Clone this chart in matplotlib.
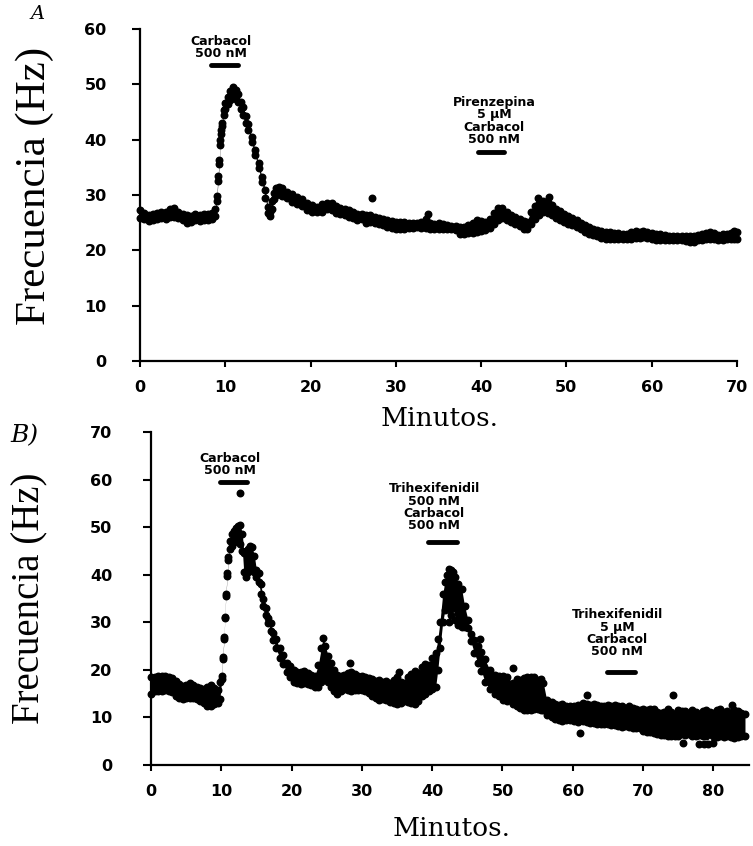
#-------------------------------------------------------------------------------
# Frecuencia de disparo frente al tiempo, dos registros (A y B)
#-------------------------------------------------------------------------------
import numpy as np
import matplotlib.pyplot as plt
#-------------------------------------------------------------------------------
# Panel A : tiempo (min), borde inferior y superior de la nube de puntos (Hz)
t_a = [0.0, 0.5, 1.0, 1.5, 2.0, 2.5, 3.0, 3.5, 4.0, 4.5, 5.0, 5.5, 6.0, 6.5,
       7.0, 7.5, 8.0, 8.5, 8.8, 9.0, 9.15, 9.3, 9.4, 9.5, 9.6, 9.8, 10.0, 10.3,
       10.6, 10.9, 11.2, 11.5, 11.8, 12.1, 12.4, 12.7, 13.1, 13.5, 13.9, 14.3,
       14.7, 15.0, 15.2, 15.5, 15.7, 16.0, 16.3, 16.7, 17.2, 17.8, 18.4, 19.0,
       19.6, 20.2, 20.7, 21.3, 21.9, 22.5, 23.0, 23.5, 24.0, 24.5, 25.0, 25.5,
       26.0, 26.5, 27.0, 27.5, 28.0, 28.5, 29.0, 29.5, 30.0, 30.5, 31.0, 31.5,
       32.0, 32.5, 33.0, 33.5, 34.0, 34.5, 35.0, 35.5, 36.0, 36.5, 37.0, 37.5,
       38.0, 38.5, 39.0, 39.5, 40.0, 40.5, 41.0, 41.5, 42.0, 42.5, 43.0, 43.5,
       44.0, 44.5, 45.0, 45.4, 45.8, 46.3, 46.8, 47.3, 47.8, 48.3, 48.8, 49.2,
       49.7, 50.2, 50.7, 51.2, 51.7, 52.2, 52.7, 53.1, 53.6, 54.1, 54.6, 55.1,
       55.6, 56.1, 56.6, 57.1, 57.6, 58.1, 58.6, 59.0, 59.5, 60.0, 60.5, 61.0,
       61.5, 62.0, 62.5, 63.0, 63.5, 64.0, 64.5, 64.9, 65.4, 65.9, 66.4, 66.8,
       67.3, 67.8, 68.3, 68.8, 69.3, 69.7, 70.0]
lo_a = [25.8, 25.6, 25.3, 25.4, 25.6, 25.8, 25.6, 26.0, 26.1, 25.8, 25.4, 25.0,
        25.2, 25.4, 25.3, 25.5, 25.4, 25.6, 26.2, 29.0, 32.5, 35.6, 39.0, 41.0,
        42.4, 44.5, 45.5, 46.5, 47.2, 47.5, 47.3, 46.8, 45.5, 44.5, 43.0, 41.8,
        39.5, 37.2, 34.8, 32.3, 29.5, 26.8, 26.2, 27.5, 29.2, 30.0, 30.2, 29.8,
        29.5, 28.8, 28.4, 28.0, 27.3, 27.0, 26.9, 27.0, 27.4, 27.3, 26.8, 26.5,
        26.3, 26.0, 25.8, 25.5, 25.6, 25.0, 25.2, 25.0, 24.8, 24.6, 24.2, 24.0,
        23.9, 23.8, 23.9, 24.0, 24.1, 24.2, 24.1, 24.0, 23.9, 23.8, 23.8, 23.9,
        23.8, 23.8, 23.6, 23.0, 22.9, 23.2, 23.2, 23.3, 23.5, 23.6, 24.0, 24.8,
        25.5, 25.8, 25.5, 25.1, 24.8, 24.4, 23.9, 23.8, 24.8, 25.6, 26.4, 26.9,
        26.8, 26.4, 25.8, 25.5, 25.2, 24.8, 24.5, 24.2, 23.8, 23.4, 23.0, 22.8,
        22.5, 22.2, 22.1, 22.0, 22.1, 22.0, 22.0, 22.0, 22.1, 22.2, 22.3, 22.4,
        22.2, 22.0, 21.9, 21.9, 21.8, 21.8, 21.9, 21.9, 21.8, 21.6, 21.5, 21.5,
        21.8, 21.9, 22.0, 22.0, 22.0, 21.9, 21.9, 22.0, 22.0, 22.0, 22.0]
hi_a = [27.3, 26.8, 26.4, 26.5, 26.7, 26.9, 27.0, 27.4, 27.6, 27.0, 26.6, 26.4,
        26.2, 26.5, 26.4, 26.6, 26.5, 26.8, 27.4, 29.8, 33.4, 36.4, 40.0, 41.8,
        43.0, 45.4, 46.6, 47.7, 48.8, 49.5, 49.0, 48.3, 46.8, 45.9, 44.3, 42.9,
        40.5, 38.1, 35.7, 33.3, 30.9, 27.9, 27.0, 29.0, 30.3, 31.3, 31.5, 31.2,
        30.6, 30.2, 29.7, 29.2, 28.5, 28.2, 27.9, 28.3, 28.5, 28.6, 28.0, 27.6,
        27.4, 27.2, 27.0, 26.6, 26.6, 26.4, 26.4, 26.0, 25.9, 25.7, 25.4, 25.3,
        25.2, 25.2, 25.1, 25.0, 25.0, 24.9, 25.2, 25.6, 25.0, 24.8, 24.9, 24.7,
        24.6, 24.4, 24.4, 24.3, 24.2, 24.6, 25.0, 25.4, 25.3, 25.2, 25.6, 26.8,
        27.6, 27.6, 27.0, 26.3, 26.0, 25.6, 25.3, 25.2, 27.0, 28.0, 28.6, 28.9,
        28.7, 28.2, 27.4, 27.1, 26.6, 26.2, 25.8, 25.4, 25.0, 24.6, 24.2, 23.9,
        23.6, 23.5, 23.4, 23.4, 23.2, 23.1, 23.0, 23.0, 23.4, 23.5, 23.4, 23.5,
        23.3, 23.1, 23.0, 23.0, 22.8, 22.6, 22.6, 22.6, 22.5, 22.6, 22.6, 22.6,
        22.8, 22.9, 23.2, 23.4, 23.1, 22.8, 22.9, 23.0, 23.2, 23.5, 23.4]
out_t_a = [27.2, 33.8, 46.7, 48.0]
out_f_a = [29.4, 26.5, 29.5, 29.6]
#-------------------------------------------------------------------------------
# Panel B
t_b = [0.0, 0.5, 1.0, 1.5, 2.0, 2.5, 3.0, 3.5, 4.0, 4.5, 5.0, 5.5, 6.0, 6.5,
       7.0, 7.5, 8.0, 8.5, 9.0, 9.5, 9.8, 10.06, 10.2, 10.4, 10.5, 10.65, 10.85,
       11.0, 11.2, 11.5, 11.8, 12.1, 12.4, 12.7, 13.0, 13.2, 13.5, 13.8, 14.1,
       14.4, 14.7, 15.0, 15.3, 15.6, 16.0, 16.4, 16.7, 17.0, 17.4, 17.8, 18.3,
       18.8, 19.3, 19.8, 20.3, 20.8, 21.3, 21.8, 22.3, 22.8, 23.3, 23.8, 24.2,
       24.5, 24.8, 25.2, 25.6, 26.0, 26.4, 27.0, 27.5, 28.0, 28.5, 29.0, 29.5,
       30.0, 30.5, 31.0, 31.5, 32.0, 32.5, 33.0, 33.5, 34.0, 34.5, 35.0, 35.5,
       36.0, 36.5, 37.0, 37.5, 38.0, 38.5, 39.0, 39.5, 40.0, 40.5, 40.8, 41.1,
       41.5, 41.8, 42.1, 42.4, 42.7, 43.0, 43.3, 43.7, 44.2, 44.6, 45.1, 45.5,
       46.0, 46.5, 47.0, 47.5, 48.2, 49.0, 49.5, 50.1, 50.7, 51.5, 52.0, 52.5,
       53.0, 53.5, 54.0, 54.5, 55.0, 55.5, 55.8, 56.3, 57.0, 57.5, 58.0, 58.5,
       59.0, 59.6, 60.2, 60.8, 61.5, 62.0, 62.5, 63.0, 63.5, 64.0, 64.5, 65.0,
       65.5, 66.0, 66.5, 67.0, 67.5, 68.0, 68.5, 69.0, 69.5, 70.0, 70.5, 71.0,
       71.5, 72.0, 72.5, 73.0, 73.5, 74.0, 74.5, 75.0, 75.5, 76.0, 76.5, 77.0,
       77.5, 78.0, 78.5, 79.0, 79.5, 80.0, 80.5, 81.0, 81.5, 82.0, 82.5, 83.0,
       83.5, 84.0, 84.5]
lo_b = [15.0, 15.5, 15.6, 15.5, 15.8, 15.6, 15.4, 14.6, 14.0, 13.8, 14.0, 14.0,
        14.1, 13.8, 13.5, 13.0, 12.5, 12.3, 12.8, 13.0, 13.8, 18.0, 22.2, 26.5,
        30.8, 35.5, 39.8, 43.0, 45.5, 46.0, 46.8, 47.0, 47.0, 46.5, 45.0, 40.5,
        39.5, 40.5, 41.0, 41.5, 40.5, 39.5, 38.5, 36.0, 33.5, 31.5, 29.8, 28.2,
        26.3, 24.5, 22.5, 21.2, 19.5, 18.5, 17.5, 17.2, 17.0, 17.3, 17.0, 16.8,
        16.5, 16.5, 17.5, 19.0, 18.0, 17.5, 16.5, 15.5, 15.0, 15.6, 16.0, 15.8,
        15.6, 15.8, 15.8, 15.7, 15.5, 15.2, 14.6, 14.0, 13.7, 13.8, 13.6, 13.2,
        13.0, 12.9, 13.0, 13.5, 13.2, 13.0, 12.9, 13.5, 14.5, 15.0, 15.5, 16.0,
        16.5, 20.0, 24.5, 30.0, 32.5, 33.5, 30.0, 31.5, 33.0, 30.5, 29.5, 29.0,
        29.0, 28.8, 26.0, 23.5, 21.5, 19.8, 17.5, 16.0, 15.0, 14.5, 13.7, 13.5,
        12.9, 12.5, 12.0, 11.6, 11.6, 11.5, 11.8, 11.8, 11.6, 11.5, 10.5, 10.0,
        9.6, 9.4, 9.2, 9.5, 9.5, 9.3, 9.0, 9.2, 9.0, 8.8, 8.8, 8.7, 8.6, 8.6,
        8.7, 8.5, 8.5, 8.2, 8.0, 8.2, 8.0, 7.8, 7.7, 7.8, 7.2, 7.0, 7.0, 6.8,
        6.5, 6.3, 6.3, 6.0, 6.2, 6.0, 6.0, 6.5, 6.4, 6.5, 6.2, 6.0, 6.3, 6.0,
        6.2, 6.5, 6.0, 5.8, 6.0, 5.8, 6.0, 5.8, 5.6, 5.8, 6.0, 6.2]
hi_b = [18.4, 18.6, 18.8, 18.7, 18.8, 18.5, 18.2, 17.6, 17.0, 16.6, 16.8, 17.2,
        16.8, 16.5, 16.2, 16.0, 16.4, 16.8, 16.2, 15.8, 17.5, 18.8, 22.8, 27.0,
        31.2, 36.0, 40.3, 43.8, 47.0, 48.5, 49.2, 49.8, 50.3, 50.5, 48.5, 44.5,
        45.0, 45.5, 46.0, 45.8, 44.0, 41.0, 40.3, 38.0, 35.0, 33.0, 31.0, 29.8,
        27.8, 26.5, 24.5, 23.2, 21.5, 20.8, 20.0, 19.5, 19.5, 19.8, 19.3, 19.0,
        18.8, 21.0, 24.5, 26.8, 25.0, 23.0, 21.5, 20.0, 19.0, 18.8, 19.0, 19.3,
        19.5, 19.2, 18.8, 18.8, 18.6, 18.2, 18.0, 17.6, 17.9, 17.4, 17.6, 17.2,
        17.8, 18.6, 17.5, 17.2, 18.4, 19.2, 19.8, 19.4, 20.5, 21.2, 21.0, 22.5,
        23.6, 26.5, 30.0, 36.0, 38.5, 40.0, 41.3, 41.0, 40.5, 39.5, 38.0, 37.0,
        33.5, 30.5, 27.5, 26.3, 25.0, 23.8, 22.2, 20.0, 19.0, 18.8, 18.7, 18.5,
        17.2, 18.0, 17.8, 18.2, 18.6, 18.4, 18.5, 17.8, 18.0, 17.3, 13.6, 13.2,
        12.8, 12.6, 12.8, 12.5, 12.3, 12.5, 12.6, 13.0, 12.8, 12.6, 12.8, 12.6,
        12.5, 12.3, 12.6, 12.5, 12.6, 12.3, 12.4, 12.0, 12.3, 12.0, 11.8, 11.5,
        11.8, 11.5, 11.7, 11.8, 11.2, 11.0, 11.2, 11.8, 11.2, 10.8, 11.5, 11.3,
        11.4, 11.0, 11.5, 11.2, 10.8, 11.4, 11.6, 11.2, 11.0, 11.5, 11.8, 11.2,
        11.4, 11.0, 11.6, 11.4, 11.0, 10.8]
out_t_b = [12.7, 28.3, 35.3, 46.8, 51.5, 61.0, 62.0, 74.2, 75.7, 78.0, 78.6,
           79.2, 80.0, 82.6]
out_f_b = [57.2, 21.4, 19.6, 26.5, 20.3, 6.7, 14.7, 14.7, 4.7, 4.5, 4.5,
           4.5, 4.6, 12.6]
#-------------------------------------------------------------------------------
# Aplicaciones de farmaco: (texto, centro del texto, base del texto, t0, t1, nivel)
bars_a = [("Carbacol\n500 nM", 9.5, 54.4, 8.3, 11.5, 53.5),
          ("Pirenzepina\n5 \u03bcM\nCarbacol\n500 nM", 41.5, 38.9, 39.6, 42.7, 37.7)]
bars_b = [("Carbacol\n500 nM", 11.2, 60.5, 9.8, 13.7, 59.5),
          ("Trihexifenidil\n500 nM\nCarbacol\n500 nM", 40.3, 49.0, 39.4, 43.5, 46.8),
          ("Trihexifenidil\n5 \u03bcM\nCarbacol\n500 nM", 66.3, 22.5, 64.9, 68.8, 19.5)]
#-------------------------------------------------------------------------------
ms = 4.7
tick_font = dict(fontsize=11.5, fontweight='bold', family='DejaVu Sans')

def panel(ax, t, lo, hi, ot, of, bars, xmax, ymax, xstep, ylpad):
    t = np.array(t); lo = np.array(lo); hi = np.array(hi)
    ax.fill_between(t, lo, hi, color='k', lw=0, zorder=2)
    ax.plot(t, lo, 'ko', ms=ms, clip_on=False, zorder=3)
    ax.plot(t, hi, 'ko', ms=ms, clip_on=False, zorder=3)
    ax.plot(ot, of, 'ko', ms=ms, clip_on=False, zorder=3)
    for txt, xc, yb, t0, t1, lev in bars:
        ax.plot([t0, t1], [lev, lev], 'k-', lw=3.5, solid_capstyle='round')
        ax.text(xc, yb, txt, ha='center', va='bottom', multialignment='center',
                fontsize=9, fontweight='bold', linespacing=0.92)
    ax.set_xlim(0, xmax)
    ax.set_ylim(0, ymax)
    ax.set_xticks(np.arange(0, xmax + 1, xstep))
    ax.set_yticks(np.arange(0, ymax + 1, 10))
    for s in ['top', 'right']:
        ax.spines[s].set_visible(False)
    for s in ['left', 'bottom']:
        ax.spines[s].set_linewidth(1.6)
    ax.tick_params(axis='y', direction='out', length=6, width=1.5, pad=ylpad)
    ax.tick_params(axis='x', direction='out', length=4.5, width=1.5, pad=9.5)
    for lab in ax.get_xticklabels() + ax.get_yticklabels():
        lab.set(**tick_font)
#-------------------------------------------------------------------------------
fig = plt.figure(figsize=(7.53, 8.46), dpi=100)
W, H = 753., 846.

ax1 = fig.add_axes([140/W, 1 - 361/H, 597/W, 332/H])
panel(ax1, t_a, lo_a, hi_a, out_t_a, out_f_a, bars_a, 70, 60, 10, 18)

ax2 = fig.add_axes([151/W, 1 - 765/H, 597.5/W, 333/H])
panel(ax2, t_b, lo_b, hi_b, out_t_b, out_f_b, bars_b, 85, 70, 10, 22)
ax2.set_xticks(np.arange(0, 81, 10))
for lab in ax2.get_xticklabels():
    lab.set(**tick_font)
#-------------------------------------------------------------------------------
ylab = dict(family='Liberation Serif', rotation=90, ha='center', va='center')
xlab = dict(fontsize=19, family='DejaVu Serif', ha='center', va='center')
fig.text(35/W, 1 - 186/H, 'Frecuencia (Hz)', fontsize=31, **ylab)
fig.text(30/W, 1 - 598/H, 'Frecuencia (Hz)', fontsize=28, **ylab)
fig.text(440/W, 1 - 418/H, 'Minutos.', **xlab)
fig.text(452/W, 1 - 828/H, 'Minutos.', **xlab)
fig.text(38/W, 1 - 14/H, 'A', fontsize=14, family='DejaVu Serif',
         style='italic', ha='center', va='center')
fig.text(24/W, 1 - 436/H, 'B)', fontsize=18, family='DejaVu Serif',
         style='italic', ha='center', va='center')
#-------------------------------------------------------------------------------
fig.savefig('out.png', dpi=100)
